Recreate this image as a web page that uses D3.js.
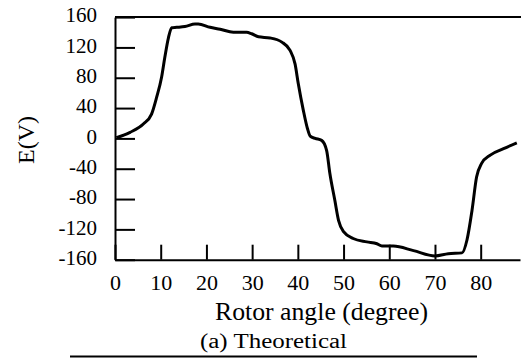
<!DOCTYPE html>
<html>
<head>
<meta charset="utf-8">
<script src="https://cdn.jsdelivr.net/npm/d3@7"></script>
<style>
  body { margin: 0; background: #fff; }
</style>
</head>
<body>
<div id="chart"></div>
<script>
// values
var angle = [0.3, 3.3, 6.2, 8.0, 9.1, 10.2, 10.9, 11.7, 12.4, 13.5, 15.3, 17.5, 18.2, 20.8, 23, 25.9, 28.8, 29.9, 31.4, 33.9,
             36.5, 38.3, 39.4, 40.1, 41.2, 42.1, 42.7, 43.8, 45.2, 46.3, 47.0, 48.1, 48.9, 50.0, 52.1, 55.1, 57.3, 58.4,
             60.9, 65.3, 70, 72.9, 75.9, 77, 78.1, 79.1, 80.2, 82.1, 85.0, 87.9]
var emf = [1, 8, 19, 32, 54, 81, 107, 133, 146, 146.5, 147.5, 151, 151, 146.5, 144, 140, 140, 138, 134, 132.5,
           127, 116, 98, 72, 37, 13, 3, 0, -2.6, -16, -46, -82, -108, -123, -132, -136.5, -139, -142,
           -142, -148, -155, -152, -151, -134, -95, -51, -33, -22, -13.6, -6]

var xTicks = [0, 10, 20, 30, 40, 50, 60, 70, 80]
var yTicks = [160, 120, 80, 40, 0, -40, -80, -120, -160]

var width = 521, height = 358

var svg = d3.select("#chart")
            .append("svg")
            .attr("width", width)
            .attr("height", height)

var x = d3.scaleLinear().domain([0, 88.6]).range([115, 520])
var y = d3.scaleLinear().domain([-160, 160]).range([259.7, 17.1])

// plain hyphen for negatives, like the original
var fmt = function(d){ return String(d) }

// top frame line
svg.append("line")
   .attr("x1", x(0)).attr("x2", 521)
   .attr("y1", y(160)).attr("y2", y(160))
   .attr("stroke", "#000").attr("stroke-width", 2)

// y axis, ticks pointing inward
var yAxis = svg.append("g")
   .attr("transform", "translate(" + x(0) + ",0)")
   .call(d3.axisLeft(y).tickValues(yTicks).tickFormat(fmt).tickSizeInner(-20).tickSizeOuter(0).tickPadding(18))
yAxis.selectAll("text").style("font-size", "21px").attr("dy", "0.22em")

// x axis, ticks pointing up
var xAxis = svg.append("g")
   .attr("transform", "translate(0," + y(-160) + ")")
   .call(d3.axisBottom(x).tickValues(xTicks).tickFormat(fmt).tickSizeInner(-15).tickSizeOuter(0).tickPadding(15))
xAxis.selectAll("text").style("font-size", "22px")

svg.selectAll(".domain, .tick line").attr("stroke", "#000").attr("stroke-width", 2)

// the curve
var line = d3.line()
             .x(function(d, i){ return x(angle[i]) })
             .y(function(d){ return y(d) })
             .curve(d3.curveMonotoneX)

svg.append("path")
   .datum(emf)
   .attr("d", line)
   .attr("fill", "none")
   .attr("stroke", "#000")
   .attr("stroke-width", 3)
   .attr("stroke-linejoin", "round")

// labels
svg.append("text")
   .attr("transform", "translate(34,140) rotate(-90)")
   .attr("text-anchor", "middle")
   .style("font-size", "24px")
   .text("E(V)")

svg.append("text")
   .attr("x", 215).attr("y", 320)
   .attr("textLength", 213).attr("lengthAdjust", "spacingAndGlyphs")
   .style("font-size", "25px")
   .text("Rotor angle (degree)")

svg.append("text")
   .attr("x", 200).attr("y", 348)
   .attr("textLength", 147).attr("lengthAdjust", "spacingAndGlyphs")
   .style("font-size", "20px")
   .text("(a) Theoretical")

svg.append("line")
   .attr("x1", 70).attr("x2", 477)
   .attr("y1", 356.5).attr("y2", 356.5)
   .attr("stroke", "#000").attr("stroke-width", 2)

// serif everywhere (the axis groups default to sans-serif)
svg.selectAll("text").style("font-family", "'Liberation Serif', serif").style("fill", "#000")
</script>
</body>
</html>
